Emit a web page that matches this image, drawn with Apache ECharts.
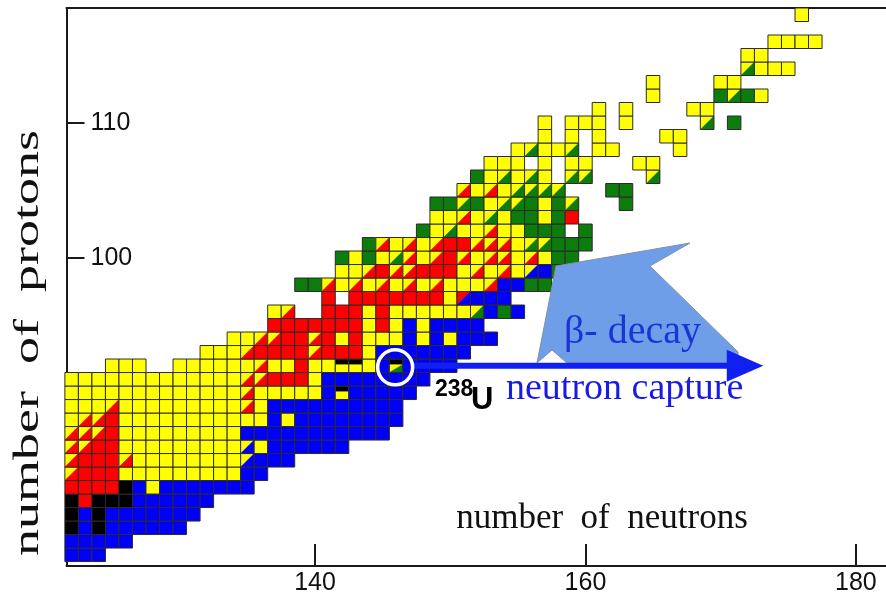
<!DOCTYPE html>
<html>
<head>
<meta charset="utf-8">
<script src="https://cdn.jsdelivr.net/npm/echarts@6/dist/echarts.min.js"></script>
<style>
html, body { margin: 0; padding: 0; background: #fff; }
#main { width: 886px; height: 599px; }
</style>
</head>
<body>
<div id="main"></div>
<script>
// one entry per proton row: Z, first N of the row, cell codes
// Y yellow, R red, B blue, G green, K black, . empty
// r yellow/red, g yellow/green, b yellow/blue, x red/blue (split on the diagonal)
// k long-lived (black band), u 238U
var protonRows = [78, 79, 80, 81, 82, 83, 84, 85, 86, 87, 88, 89, 90, 91, 92, 93, 94, 95, 96, 97,
                  98, 99, 100, 101, 102, 103, 104, 105, 106, 107, 108, 109, 110, 111, 112, 113, 114, 115, 116, 117, 118];
var firstNeutron = [122, 122, 122, 122, 122, 122, 122, 122, 122, 122, 122, 122, 122, 122, 125, 132, 134, 137, 137, 141,
                    139, 142, 142, 144, 148, 149, 149, 151, 152, 153, 155, 157, 157, 161, 165, 165, 172, 172, 174, 0, 176];
var rowCells = [
  "BBB",
  "BBBBB",
  "KBKBBBBBB",
  "KBKBBBBBBB",
  "KRKKKBBBBBB",
  "RRRRKBYBBBBBBB",
  "rRRRYYYYYYYYYBB",
  "rRRRrYYYYYYYYbBBB",
  "rrRRYYYYYYYYYbYBBBBBB",
  "rrrRYYYYYYYYYBBBBBBBBBBB",
  "YrrRYYYYYYYYYYYBYBBBBBBBB",
  "YYYrYYYYYYYYYrYBBBBBBBBBB",
  "YYYYYYYYYYYYYrYYYYYBkBBBBB",
  "YYYYYYYYYYYYYrrRRRYBBBBBBBB",
  "YYY..YYYYYYrYYRYYkkYBuBBBB",
  "YYYrRRRRrRRRYBBBBBBB",
  "YYrrRRrRYRYYYBYBYBBB",
  "RRRRRRRYRYBYBBBB",
  "Yr..RRRYRYYYYYYgBGB",
  "R.RRRRRRRYxBBB",
  "GGrYrYrYrYrYYYrBBGG",
  "YYrRrrRRRYrYrYbBG",
  "GYGYgrYrRrYrrYrYGG",
  "GrYrYrRRrrrYggGGG",
  "GYgYYrYYGGG.G",
  "YYrYgYGGYGR",
  "GGgGYggGYGg...G",
  "rYrYgggg...GG",
  "GYgYgY.gg....g",
  "YYY.Y.YY...YY",
  "YgYYg.YY....Y",
  "Y.Y.Y....YY",
  "Y.YYY.Y.....g.G",
  "Y.Y....YY",
  "Y....GgGY",
  "Y....YY",
  "gYYY",
  "YY",
  "YYYY",
  "",
  "Y"
];
var xTicks = [140, 160, 180];
var yTicks = [100, 110];

var colors = { Y: '#ffff00', R: '#ff0000', B: '#0000fa', G: '#0c7c0c', K: '#000000', W: '#ffffff' };
var splits = { r: ['Y', 'R'], g: ['Y', 'G'], b: ['Y', 'B'], x: ['R', 'B'] };

var cellData = [], cellCode = [];
protonRows.forEach(function (z, i) {
  var s = rowCells[i];
  for (var j = 0; j < s.length; j++) {
    if (s[j] === '.') continue;
    cellData.push([firstNeutron[i] + j, z]);
    cellCode.push(s[j]);
  }
});

function tri(points, c) {
  return { type: 'polygon', shape: { points: points }, style: { fill: colors[c], stroke: colors[c], lineWidth: 0.5 } };
}

function renderCell(params, api) {
  var n = api.value(0), z = api.value(1), c = cellCode[params.dataIndex];
  var a = api.coord([n - 0.5, z + 0.5]), b = api.coord([n + 0.5, z - 0.5]);
  var x = a[0], y = a[1], w = b[0] - a[0], h = b[1] - a[1];
  var kids = [];
  if (splits[c]) {
    kids.push(tri([[x, y], [x + w, y], [x, y + h]], splits[c][0]));
    kids.push(tri([[x + w, y], [x + w, y + h], [x, y + h]], splits[c][1]));
  } else if (c === 'k') {
    kids.push({ type: 'rect', shape: { x: x, y: y, width: w, height: h }, style: { fill: colors.Y } });
    kids.push({ type: 'rect', shape: { x: x, y: y, width: w, height: h * 0.4 }, style: { fill: colors.K } });
  } else if (c === 'u') {
    kids.push(tri([[x, y + h * 0.4], [x + w, y + h * 0.4], [x, y + h]], 'Y'));
    kids.push(tri([[x + w, y + h * 0.4], [x + w, y + h], [x, y + h]], 'G'));
    kids.push({ type: 'rect', shape: { x: x, y: y, width: w, height: h * 0.4 }, style: { fill: colors.K } });
  } else {
    kids.push({ type: 'rect', shape: { x: x, y: y, width: w, height: h }, style: { fill: colors[c] } });
  }
  kids.push({ type: 'rect', shape: { x: x, y: y, width: w, height: h },
              style: { fill: null, stroke: '#2b2b2b', lineWidth: 1 } });
  return { type: 'group', children: kids };
}

var axisColor = '#1a1a1a';
var chart = echarts.init(document.getElementById('main'));
chart.setOption({
  animation: false,
  grid: { left: 66.5, right: 0, top: 8, bottom: 33 },
  xAxis: [{
    type: 'value', min: 121.62, max: 182.23,
    axisLine: { onZero: false, lineStyle: { color: axisColor, width: 2 } },
    axisTick: { inside: true, length: 22, customValues: xTicks, lineStyle: { color: axisColor, width: 2 } },
    axisLabel: { customValues: xTicks, margin: 5, fontSize: 25, fontFamily: 'Liberation Sans', color: '#111' },
    splitLine: { show: false }
  }, {
    type: 'value', position: 'top', min: 121.62, max: 182.23,
    axisLine: { onZero: false, lineStyle: { color: axisColor, width: 2 } },
    axisTick: { show: false }, axisLabel: { show: false }, splitLine: { show: false }
  }],
  yAxis: {
    type: 'value', min: 77.17, max: 118.5,
    axisLine: { onZero: false, lineStyle: { color: axisColor, width: 2 } },
    axisTick: { inside: true, length: 18, customValues: yTicks, lineStyle: { color: axisColor, width: 2 } },
    axisLabel: { inside: true, customValues: yTicks, margin: 24, fontSize: 25, fontFamily: 'Liberation Sans', color: '#111' },
    splitLine: { show: false }
  },
  series: [{
    type: 'custom', renderItem: renderCell, data: cellData,
    encode: { x: 0, y: 1 }, clip: false, z: 2
  }]
});

// annotations: ring around 238U, capture arrow, beta-decay arrow, labels
var u = chart.convertToPixel({ seriesIndex: 0 }, [146, 92]);
var start = chart.convertToPixel({ seriesIndex: 0 }, [147.3, 92]);
var headBase = chart.convertToPixel({ seriesIndex: 0 }, [170.45, 92]);
var tip = chart.convertToPixel({ seriesIndex: 0 }, [173.15, 92]);
var ay = u[1];

chart.setOption({
  graphic: [
    { type: 'polygon', z: 50,
      shape: { points: [[537, 363], [556, 266], [690, 243], [650, 266], [738, 352],
                        [738, 363], [567, 363], [552, 350]] },
      style: { fill: '#6f9ee8', stroke: '#8090aa', lineWidth: 1 } },
    { type: 'text', z: 51, x: 564, y: 332,
      style: { text: 'β- decay', font: '40px "Liberation Serif"', fill: '#1a35d6', verticalAlign: 'middle' } },
    { type: 'line', z: 52, shape: { x1: start[0], y1: ay, x2: headBase[0] + 1, y2: ay },
      style: { stroke: '#1020f0', lineWidth: 6 } },
    { type: 'polygon', z: 52,
      shape: { points: [[headBase[0], ay - 16], [tip[0], ay], [headBase[0], ay + 16]] },
      style: { fill: '#1020f0' } },
    { type: 'circle', z: 53, shape: { cx: u[0] - 1, cy: ay + 1.5, r: 17.5 },
      style: { fill: null, stroke: '#ffffff', lineWidth: 3.5 } },
    { type: 'text', z: 51, x: 435, y: 390,
      style: { text: '238', font: 'bold 23px "Liberation Sans"', fill: '#000', verticalAlign: 'middle' } },
    { type: 'text', z: 51, x: 471, y: 400,
      style: { text: 'U', font: 'bold 31px "Liberation Sans"', fill: '#000', verticalAlign: 'middle' } },
    { type: 'text', z: 51, x: 506, y: 389,
      style: { text: 'neutron capture', font: '38px "Liberation Serif"', fill: '#1a1ae6', verticalAlign: 'middle' } },
    { type: 'text', z: 51, x: 602, y: 519,
      style: { text: 'number  of  neutrons', font: '35px "Liberation Serif"', fill: '#111', align: 'center', verticalAlign: 'middle' } },
    { type: 'text', z: 51, x: 29, y: 343, rotation: Math.PI / 2, scaleX: 1.5,
      style: { text: 'number  of  protons', font: '36px "Liberation Serif"', fill: '#111', align: 'center', verticalAlign: 'middle' } }
  ]
});
</script>
</body>
</html>
